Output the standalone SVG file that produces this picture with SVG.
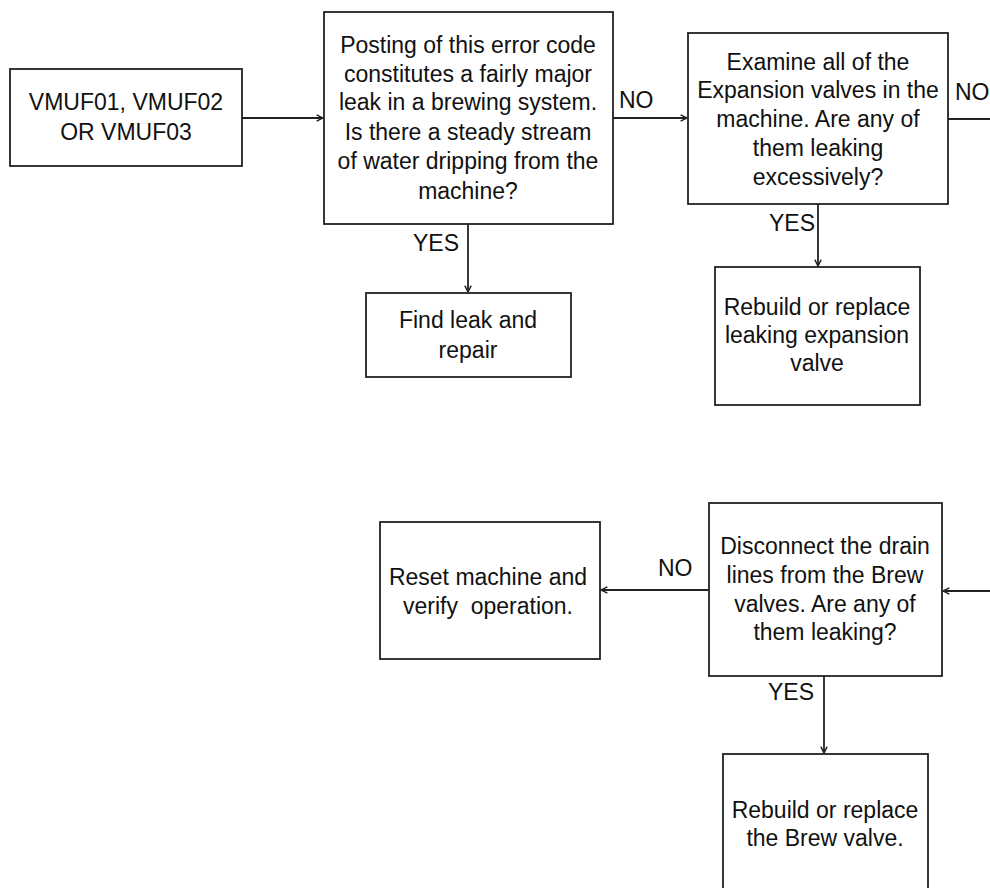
<svg xmlns="http://www.w3.org/2000/svg" width="990" height="888" viewBox="0 0 990 888">
<style>
.box{fill:#fff;stroke:#222;stroke-width:1.8}
.t{font-family:"Liberation Sans",Arial,sans-serif;font-size:23px;fill:#111;text-anchor:middle;white-space:pre}
.l{font-family:"Liberation Sans",Arial,sans-serif;font-size:23px;fill:#111}
.c{fill:none;stroke:#222;stroke-width:1.8}
</style>
<defs>
<marker id="a" viewBox="0 0 10 10" refX="9" refY="5" markerWidth="8" markerHeight="8" markerUnits="userSpaceOnUse" orient="auto">
<path d="M1,1 L9,5 L1,9" fill="none" stroke="#222" stroke-width="1.8"/>
</marker>
</defs>
<rect width="990" height="888" fill="#fff"/>
<g id="connectors">
<line class="c" x1="242" y1="118" x2="323" y2="118" marker-end="url(#a)"/>
<line class="c" x1="613" y1="118" x2="687" y2="118" marker-end="url(#a)"/>
<line class="c" x1="948" y1="119" x2="992" y2="119"/>
<line class="c" x1="468" y1="224" x2="468" y2="292" marker-end="url(#a)"/>
<line class="c" x1="818" y1="204" x2="818" y2="266" marker-end="url(#a)"/>
<line class="c" x1="992" y1="591" x2="943" y2="591" marker-end="url(#a)"/>
<line class="c" x1="709" y1="590" x2="601" y2="590" marker-end="url(#a)"/>
<line class="c" x1="824" y1="676" x2="824" y2="753" marker-end="url(#a)"/>
<text class="l" x="619" y="108">NO</text>
<text class="l" x="955" y="100">NO</text>
<text class="l" x="413" y="251">YES</text>
<text class="l" x="769" y="231">YES</text>
<text class="l" x="768" y="700">YES</text>
<text class="l" x="658" y="576">NO</text>
</g>
<g id="n1">
<rect class="box" x="10" y="69" width="232" height="97"/>
<text class="t" x="126" y="110">VMUF01, VMUF02</text>
<text class="t" x="126" y="140">OR VMUF03</text>
</g>
<g id="n2">
<rect class="box" x="324" y="12" width="289" height="212"/>
<text class="t" x="468" y="53">Posting of this error code</text>
<text class="t" x="468" y="82">constitutes a fairly major</text>
<text class="t" x="468" y="110">leak in a brewing system.</text>
<text class="t" x="468" y="140">Is there a steady stream</text>
<text class="t" x="468" y="169">of water dripping from the</text>
<text class="t" x="468" y="199">machine?</text>
</g>
<g id="n3">
<rect class="box" x="688" y="33" width="260" height="171"/>
<text class="t" x="818" y="70">Examine all of the</text>
<text class="t" x="818" y="98">Expansion valves in the</text>
<text class="t" x="818" y="127">machine. Are any of</text>
<text class="t" x="818" y="156">them leaking</text>
<text class="t" x="818" y="185">excessively?</text>
</g>
<g id="n4">
<rect class="box" x="715" y="267" width="205" height="138"/>
<text class="t" x="817" y="315">Rebuild or replace</text>
<text class="t" x="817" y="343">leaking expansion</text>
<text class="t" x="817" y="371">valve</text>
</g>
<g id="n5">
<rect class="box" x="366" y="293" width="205" height="84"/>
<text class="t" x="468" y="328">Find leak and</text>
<text class="t" x="468" y="358">repair</text>
</g>
<g id="n6">
<rect class="box" x="709" y="503" width="233" height="173"/>
<text class="t" x="825" y="554">Disconnect the drain</text>
<text class="t" x="825" y="583">lines from the Brew</text>
<text class="t" x="825" y="612">valves. Are any of</text>
<text class="t" x="825" y="640">them leaking?</text>
</g>
<g id="n7">
<rect class="box" x="380" y="522" width="220" height="137"/>
<text class="t" x="488" y="585">Reset machine and</text>
<text class="t" x="488" y="614">verify  operation.</text>
</g>
<g id="n8">
<rect class="box" x="723" y="754" width="205" height="150"/>
<text class="t" x="825" y="818">Rebuild or replace</text>
<text class="t" x="825" y="846">the Brew valve.</text>
</g>
</svg>
